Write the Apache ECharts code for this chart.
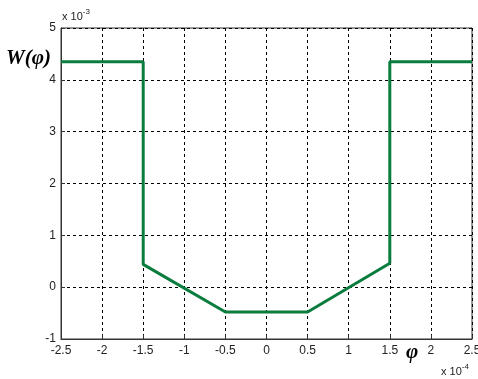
<!DOCTYPE html>
<html>
<head>
<meta charset="utf-8">
<script src="https://cdn.jsdelivr.net/npm/echarts@6/dist/echarts.min.js"></script>
<style>
  html, body { margin: 0; padding: 0; background: #fff; }
  #chart { width: 478px; height: 379px; }
</style>
</head>
<body>
<div id="chart"></div>
<script>
// phi in units of 1e-4, W in units of 1e-3
const phi = [-2.5, -1.5, -1.5, -0.5, 0.5, 1.5, 1.5, 2.5];
const w = [4.35, 4.35, 0.44, -0.48, -0.48, 0.46, 4.35, 4.35];
const xTicks = [-2.5, 2.5, 0.5];   // min, max, step
const yTicks = [-1, 5, 1];

const chart = echarts.init(document.getElementById('chart'));

const gridLine = { show: true, lineStyle: { color: '#000', type: [3, 3], width: 1 } };
const lbl = { color: '#222', fontFamily: 'Liberation Sans, Arial', fontSize: 12 };

const option = {
    animation: false,
    grid: {
        left: 61, right: 6, top: 28, bottom: 40,
        outerBoundsMode: 'none', containLabel: false,
        show: true, borderColor: '#333', borderWidth: 1, backgroundColor: '#fff'
    },
    xAxis: {
        type: 'value', min: xTicks[0], max: xTicks[1], interval: xTicks[2],
        axisLine: { show: true, onZero: false, lineStyle: { color: '#333' } },
        axisTick: { show: true, inside: true, length: 4, lineStyle: { color: '#333' } },
        axisLabel: Object.assign({ margin: 6 }, lbl),
        splitLine: gridLine
    },
    yAxis: {
        type: 'value', min: yTicks[0], max: yTicks[1], interval: yTicks[2],
        axisLine: { show: true, onZero: false, lineStyle: { color: '#333' } },
        axisTick: { show: true, inside: true, length: 4, lineStyle: { color: '#333' } },
        axisLabel: Object.assign({ margin: 5 }, lbl),
        splitLine: gridLine
    },
    series: [{
        type: 'line',
        data: phi.map((p, i) => [p, w[i]]),
        symbol: 'none',
        lineStyle: { color: '#0a7d3e', width: 3 }
    }],
    graphic: [
        {
            type: 'text', left: 6, top: 48,
            style: { text: 'W(φ)', font: 'italic bold 21px "Liberation Serif", "DejaVu Serif"', fill: '#000' }
        },
        {
            type: 'text', left: 406, top: 342,
            style: { text: 'φ', font: 'italic bold 21px "Liberation Serif", "DejaVu Serif"', fill: '#000' }
        },
        {
            type: 'text', left: 62, top: 8,
            style: {
                text: '{a|x 10}{b|-3}',
                rich: {
                    a: { fontFamily: 'Liberation Sans', fontSize: 11, fill: '#222', verticalAlign: 'bottom' },
                    b: { fontFamily: 'Liberation Sans', fontSize: 8, fill: '#222', verticalAlign: 'top', padding: [0, 0, 6, 0] }
                }
            }
        },
        {
            type: 'text', left: 441, top: 363,
            style: {
                text: '{a|x 10}{b|-4}',
                rich: {
                    a: { fontFamily: 'Liberation Sans', fontSize: 11, fill: '#222', verticalAlign: 'bottom' },
                    b: { fontFamily: 'Liberation Sans', fontSize: 8, fill: '#222', verticalAlign: 'top', padding: [0, 0, 6, 0] }
                }
            }
        }
    ]
};

option && chart.setOption(option);
</script>
</body>
</html>
